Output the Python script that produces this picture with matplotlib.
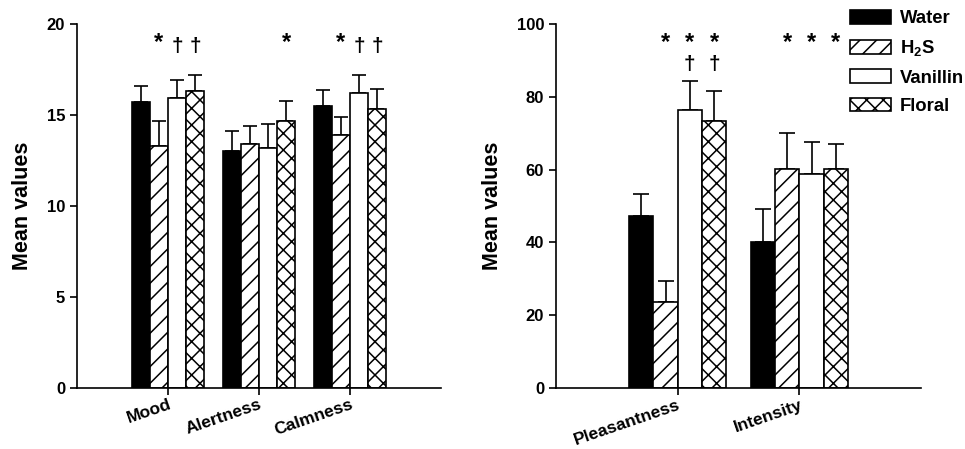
import numpy as np
import matplotlib
matplotlib.use("Agg")
from matplotlib import pyplot as plt

plt.rcParams['font.family'] = ['Liberation Sans', 'DejaVu Sans']
plt.rcParams['font.weight'] = 'bold'
plt.rcParams['mathtext.fontset'] = 'custom'
plt.rcParams['mathtext.bf'] = 'Liberation Sans:bold'
plt.rcParams['mathtext.rm'] = 'Liberation Sans:bold'
plt.rcParams['hatch.linewidth'] = 1.1

# data
groups = ['Water', 'H$_\\mathbf{2}$S', 'Vanillin', 'Floral']
mood_cats = ['Mood', 'Alertness', 'Calmness']
mood_vals = {
    'Water':    [15.7, 13.0, 15.5],
    'H2S':      [13.3, 13.4, 13.9],
    'Vanillin': [15.95, 13.2, 16.2],
    'Floral':   [16.3, 14.65, 15.35],
}
mood_err = {
    'Water':    [0.9, 1.1, 0.86],
    'H2S':      [1.35, 1.0, 1.0],
    'Vanillin': [1.0, 1.3, 1.0],
    'Floral':   [0.9, 1.1, 1.1],
}
odor_cats = ['Pleasantness', 'Intensity']
odor_vals = {
    'Water':    [47.3, 40.1],
    'H2S':      [23.7, 60.2],
    'Vanillin': [76.3, 58.8],
    'Floral':   [73.4, 60.2],
}
odor_err = {
    'Water':    [6.0, 9.2],
    'H2S':      [5.8, 9.8],
    'Vanillin': [8.0, 8.9],
    'Floral':   [8.2, 6.8],
}
# significance marks: (category index, group index, symbol)
mood_marks = [(0, 1, '*'), (0, 2, '†'), (0, 3, '†'),
              (1, 3, '*'),
              (2, 1, '*'), (2, 2, '†'), (2, 3, '†')]
odor_marks = [(0, 1, '*'), (0, 2, '*'), (0, 3, '*'),
              (0, 2, '†'), (0, 3, '†'),
              (1, 1, '*'), (1, 2, '*'), (1, 3, '*')]

keys = ['Water', 'H2S', 'Vanillin', 'Floral']
styles = [dict(color='black', hatch=None),
          dict(color='white', hatch='//'),
          dict(color='white', hatch=None),
          dict(color='white', hatch='xx')]
width = 0.2
offsets = np.array([-1.5, -0.5, 0.5, 1.5]) * width

fig = plt.figure(figsize=(9.65, 4.49), dpi=100)
ax1 = fig.add_axes([77/965, 1-388/449, 364/965, 364/449])
ax2 = fig.add_axes([556/965, 1-388/449, 365/965, 364/449])


def draw(ax, cats, vals, errs, capsize):
    x = np.arange(len(cats))
    bars = []
    for i, k in enumerate(keys):
        b = ax.bar(x + offsets[i], vals[k], width, facecolor=styles[i]['color'],
                   edgecolor='black', linewidth=1.2, hatch=styles[i]['hatch'],
                   zorder=2)
        ax.errorbar(x + offsets[i], vals[k],
                    yerr=[np.zeros(len(cats)), errs[k]], fmt='none',
                    ecolor='black', elinewidth=1.2, capsize=capsize,
                    capthick=1.2, zorder=1)
        bars.append(b)
    ax.set_xticks(x)
    ax.set_xlim(-1, len(cats))
    for s in ['top', 'right']:
        ax.spines[s].set_visible(False)
    for s in ['left', 'bottom']:
        ax.spines[s].set_linewidth(1.2)
    ax.tick_params(axis='both', length=5, width=1.2, labelsize=12)
    ax.tick_params(axis='x', pad=1.5)
    ax.set_xticklabels(cats, rotation=19, ha='right', rotation_mode='anchor',
                       fontsize=12.5, fontweight='bold')
    for lab in ax.get_yticklabels():
        lab.set_fontweight('bold')
    ax.set_ylabel('Mean values', fontsize=15.5, fontweight='bold', labelpad=10)
    return bars


bars = draw(ax1, mood_cats, mood_vals, mood_err, 4.7)
ax1.set_ylim(0, 20)
ax1.set_yticks([0, 5, 10, 15, 20])
for c, g, s in mood_marks:
    y = 19.0 if s == '*' else 18.75
    ax1.text(c + offsets[g], y, s, ha='center', va='center',
             fontsize=17 if s == '*' else 15, fontweight='bold')

draw(ax2, odor_cats, odor_vals, odor_err, 6)
ax2.set_ylim(0, 100)
ax2.set_yticks([0, 20, 40, 60, 80, 100])
for c, g, s in odor_marks:
    y = 94.8 if s == '*' else 89.0
    ax2.text(c + offsets[g], y, s, ha='center', va='center',
             fontsize=17 if s == '*' else 15, fontweight='bold')

fig.legend(bars, groups, loc='upper left', bbox_to_anchor=(850/965, 1-10/449),
           frameon=False, borderpad=0, borderaxespad=0,
           handlelength=2.2, handleheight=0.75, labelspacing=0.6,
           handletextpad=0.5, prop={'weight': 'bold', 'size': 13.3})

fig.savefig('out.png', dpi=100)
